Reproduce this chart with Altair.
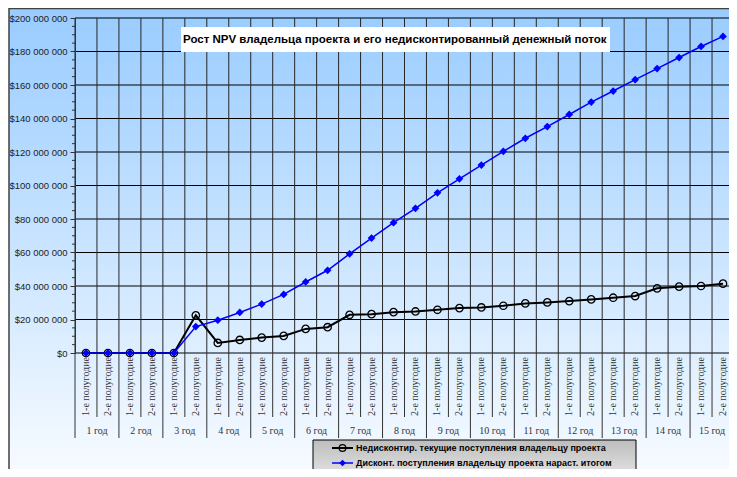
import altair as alt
import pandas as pd

# ---------------- data ----------------
half_labels = ["1-е полугодие", "2-е полугодие"]
year_labels = ["1 год", "2 год", "3 год", "4 год", "5 год", "6 год", "7 год", "8 год",
               "9 год", "10 год", "11 год", "12 год", "13 год", "14 год", "15 год"]
# values in millions of $
undiscounted = [0, 0, 0, 0, 0, 22.5, 6.0, 7.8, 9.2, 10.2, 14.4, 15.4, 22.8, 23.2, 24.4,
                24.8, 25.8, 26.8, 27.2, 28.2, 29.6, 30.2, 31.0, 32.0, 33.0, 34.0, 38.6, 39.6,
                40.0, 41.4]
discounted = [0, 0, 0, 0, 0, 15.8, 19.6, 24.2, 29.2, 35.0, 42.4, 49.4, 59.2, 68.6, 77.8,
              86.4, 95.6, 104.0, 112.2, 120.4, 128.2, 135.2, 142.4, 149.8, 156.4, 163.2,
              169.8, 176.4, 183.0, 189.0]
series_names = ["Недисконтир. текущие поступления владельцу проекта",
                "Дисконт. поступления владельцу проекта нараст. итогом"]
title_text = "Рост NPV владельца проекта и его недисконтированный денежный поток"
y_major = list(range(0, 200_000_001, 20_000_000))
y_minor = [v for v in range(0, 200_000_001, 5_000_000) if v % 20_000_000]

# ---------------- layout ----------------
W, H = 654, 335      # visible plot width (page limit); the x range runs a bit past it
XR = 659             # full plot range in px (cropped at the right like the reference)
n = len(undiscounted)

df = pd.DataFrame({
    "x": [i + 0.5 for i in range(n)],
    "half": [half_labels[i % 2] for i in range(n)],
    "u": [v * 1e6 for v in undiscounted],
    "d": [v * 1e6 for v in discounted],
})
years_df = pd.DataFrame({"x": [2 * i + 1 for i in range(len(year_labels))], "label": year_labels})
bounds = list(range(n + 1))
short_df = pd.DataFrame({"b": [b for b in bounds if b % 2 == 1]})
long_df = pd.DataFrame({"b": [b for b in bounds if b % 2 == 0]})
all_df = pd.DataFrame({"b": bounds})

xs = alt.Scale(domain=[0, n], range=[0, XR], nice=False, zero=False)
ys = alt.Scale(domain=[0, 200_000_000], nice=False)

yaxis = alt.Axis(values=y_major, grid=False, zindex=1, domainColor="#333333", domainWidth=1,
                 tickColor="#333333", tickSize=5, labelPadding=3, labelFont="Liberation Sans",
                 labelFontSize=9.5, labelColor="#222222", title=None,
                 labelExpr="'$' + replace(format(datum.value, ','), /,/g, ' ')")


def X(f):
    return alt.X(f, type="quantitative", scale=xs, axis=None)


def Y(f):
    return alt.Y(f, type="quantitative", scale=ys, axis=yaxis)


one = alt.Data(values=[{}])

bg = alt.Chart(one).mark_rect(
    fill={"gradient": "linear", "x1": 0, "x2": 0, "y1": 0, "y2": 1,
          "stops": [{"offset": 0, "color": "#99ccff"}, {"offset": 1, "color": "#ffffff"}]},
    stroke="#404040", strokeWidth=1.5
).encode(x=alt.value(-66), x2=alt.value(XR + 30), y=alt.value(-9.5), y2=alt.value(H + 160))

hgrid = alt.Chart(pd.DataFrame({"v": y_major})).mark_rule(color="#000000", strokeWidth=1).encode(
    y=Y("v"), x=alt.value(0), x2=alt.value(XR))
minor = alt.Chart(pd.DataFrame({"v": y_minor})).mark_rule(color="#333333", strokeWidth=1).encode(
    y=Y("v"), x=alt.value(-3), x2=alt.value(0))
vgrid = alt.Chart(all_df).mark_rule(color="#262626", strokeWidth=1).encode(
    x=X("b"), y=alt.value(0), y2=alt.value(H))
sep_short = alt.Chart(short_df).mark_rule(color="#333333", strokeWidth=1).encode(
    x=X("b"), y=alt.value(H), y2=alt.value(H + 64))
sep_long = alt.Chart(long_df).mark_rule(color="#333333", strokeWidth=1).encode(
    x=X("b"), y=alt.value(H), y2=alt.value(H + 85))

half_text = alt.Chart(df).mark_text(angle=270, align="right", baseline="middle",
                                    font="Liberation Serif", fontSize=10, color="#333333").encode(
    x=X("x"), y=alt.value(H + 4), text="half:N")
year_text = alt.Chart(years_df).mark_text(baseline="middle", font="Liberation Serif",
                                          fontSize=10, color="#333333").encode(
    x=X("x"), y=alt.value(H + 78), text="label:N")

u_line = alt.Chart(df).mark_line(color="#000000", strokeWidth=2).encode(x=X("x"), y=Y("u"))
u_pts = alt.Chart(df).mark_point(shape="circle", filled=False, color="#000000", size=55,
                                 strokeWidth=1.3, opacity=1).encode(x=X("x"), y=Y("u"))
d_line = alt.Chart(df).mark_line(color="#0000ff", strokeWidth=1.5).encode(x=X("x"), y=Y("d"))
d_pts = alt.Chart(df).mark_point(shape="diamond", filled=True, color="#0000ff", size=60,
                                 opacity=1).encode(x=X("x"), y=Y("d"))

title_box = alt.Chart(one).mark_rect(fill="#ffffff").encode(
    x=alt.value(106), x2=alt.value(535), y=alt.value(9), y2=alt.value(34))
title_mark = alt.Chart(alt.Data(values=[{"t": title_text}])).mark_text(
    align="left", baseline="middle", font="Liberation Sans", fontSize=11.5, fontWeight="bold",
    color="#000000").encode(x=alt.value(108), y=alt.value(22), text="t:N")

leg_top = 422
leg_box = alt.Chart(one).mark_rect(
    fill={"gradient": "linear", "x1": 0, "x2": 0, "y1": 0, "y2": 1,
          "stops": [{"offset": 0, "color": "#bdbdbd"}, {"offset": 1, "color": "#ffffff"}]},
    stroke="#000000", strokeWidth=1
).encode(x=alt.value(238), x2=alt.value(561), y=alt.value(leg_top), y2=alt.value(H + 150))

legend_layers = []
styles = [("#000000", 2, "circle", False), ("#0000ff", 1.5, "diamond", True)]
for i, (name, (col, lw, shp, fil)) in enumerate(zip(series_names, styles)):
    yy = leg_top + 8 + 15 * i
    d1 = alt.Data(values=[{"label": name}])
    legend_layers.append(alt.Chart(d1).mark_rule(color=col, strokeWidth=lw).encode(
        x=alt.value(257), x2=alt.value(278), y=alt.value(yy)))
    legend_layers.append(alt.Chart(d1).mark_point(shape=shp, filled=fil, color=col, size=45,
                                                  strokeWidth=1.2, opacity=1).encode(
        x=alt.value(267.5), y=alt.value(yy)))
    legend_layers.append(alt.Chart(d1).mark_text(align="left", baseline="middle",
                                                 font="Liberation Sans", fontSize=9,
                                                 fontWeight="bold", color="#000000").encode(
        x=alt.value(281), y=alt.value(yy), text="label:N"))

chart = alt.layer(
    bg, hgrid, vgrid, minor, sep_short, sep_long, half_text, year_text,
    u_line, u_pts, d_line, d_pts, title_box, title_mark, leg_box, *legend_layers
).properties(
    width=W, height=H,
    autosize=alt.AutoSizeParams(type="none"),
    padding={"left": 67, "top": 10, "right": 0, "bottom": 116},
).configure_view(strokeWidth=0)

chart.save("out.html", embed_options={"renderer": "svg", "actions": False})
